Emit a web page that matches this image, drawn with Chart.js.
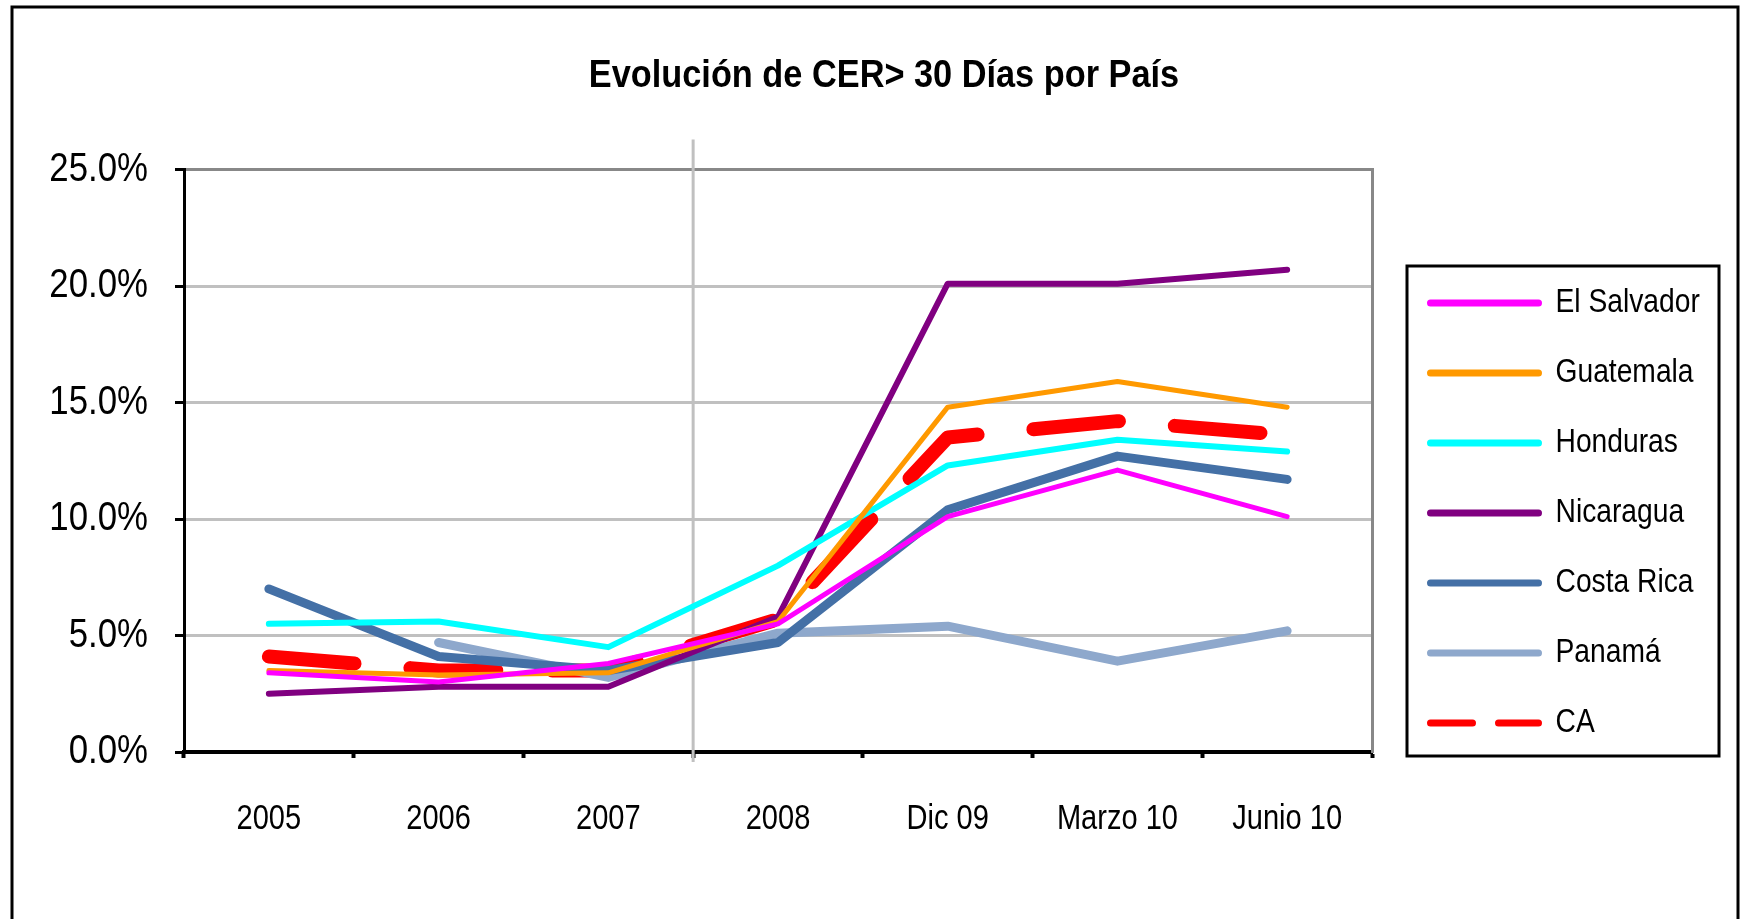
<!DOCTYPE html>
<html lang="es">
<head>
<meta charset="UTF-8">
<title>Evolución de CER&gt; 30 Días por País</title>
<script src="https://cdn.jsdelivr.net/npm/chart.js@4.4.0/dist/chart.umd.min.js"></script>
<style>
  html, body { margin: 0; padding: 0; background: #fff; }
  #wrap { width: 1744px; height: 919px; position: relative; }
</style>
</head>
<body>
<div id="wrap"><canvas id="cer"></canvas></div>
<script>
// periods on the x axis
const periodos = ['2005', '2006', '2007', '2008', 'Dic 09', 'Marzo 10', 'Junio 10'];

// CER > 30 dias, in percent
const elSalvador = [3.4, 3.0, 3.8, 5.5, 10.1, 12.1, 10.1];
const guatemala  = [3.5, 3.3, 3.4, 5.6, 14.8, 15.9, 14.8];
const honduras   = [5.5, 5.6, 4.5, 8.0, 12.3, 13.4, 12.9];
const nicaragua  = [2.5, 2.8, 2.8, 5.8, 20.1, 20.1, 20.7];
const costaRica  = [7.0, 4.1, 3.5, 4.7, 10.4, 12.7, 11.7];
const panama     = [null, 4.7, 3.2, 5.1, 5.4, 3.9, 5.2];
const ca         = [4.1, 3.5, 3.5, 5.7, 13.5, 14.2, 13.6];

const yTicks = [0, 5, 10, 15, 20, 25];

const FONT = "'Liberation Sans', Arial, sans-serif";

// no Arial Narrow here, so squeeze the text horizontally on this canvas
function narrow(font) {
    if (/bold/.test(font)) return 0.88;
    if (/\b40px/.test(font)) return 0.87;
    return 0.83;
}
const ctx = document.getElementById('cer').getContext('2d');
const nativeFill = ctx.fillText.bind(ctx);
const nativeMeasure = ctx.measureText.bind(ctx);
ctx.fillText = function (t, x, y, maxW) {
    const k = narrow(this.font);
    this.save();
    this.translate(x, y);
    this.scale(k, 1);
    if (maxW !== undefined) nativeFill(t, 0, 0, maxW / k); else nativeFill(t, 0, 0);
    this.restore();
};
ctx.measureText = function (t) {
    const m = nativeMeasure(t);
    const k = narrow(this.font);
    return {
        width: m.width * k,
        actualBoundingBoxAscent: m.actualBoundingBoxAscent,
        actualBoundingBoxDescent: m.actualBoundingBoxDescent,
        actualBoundingBoxLeft: m.actualBoundingBoxLeft * k,
        actualBoundingBoxRight: m.actualBoundingBoxRight * k
    };
};

const nombres = ['El Salvador', 'Guatemala', 'Honduras', 'Nicaragua', 'Costa Rica', 'Panamá', 'CA'];

// legend geometry: box 108 wide, 34px text, 36px padding; its left edge goes at 1394
// (chart.js adds 10px to the width of a vertical legend)
const LEG_FONT = 34, LEG_BOX = 108, LEG_PAD = 36;
ctx.font = LEG_FONT + 'px ' + FONT;
const legText = Math.max(...nombres.map(n => ctx.measureText(n).width));
const legWidth = LEG_PAD + LEG_BOX + LEG_FONT / 2 + legText + 10;
const padRight = Math.max(0, 1744 - 1394.5 - legWidth);

function serie(label, data, color, width, dash) {
    return {
        label: label,
        data: data,
        borderColor: color,
        backgroundColor: color,
        borderWidth: width,
        borderDash: dash || [],
        borderCapStyle: 'round',
        borderJoinStyle: 'round',
        pointRadius: 0,
        pointHoverRadius: 0,
        tension: 0,
        fill: false
    };
}

// frame around the whole chart + the legend box
const marcos = {
    id: 'marcos',
    afterLayout(chart) {
        // centre the title on the frame, not on the padded box
        const t = chart.titleBlock;
        if (t) {
            const shift = 884 - (t.left + t.right) / 2;
            t.left += shift;
            t.right += shift;
        }
    },
    beforeDraw(chart) {
        const c = chart.ctx;
        c.save();
        c.fillStyle = '#fff';
        c.fillRect(0, 0, chart.width, chart.height);
        c.strokeStyle = '#000';
        c.lineWidth = 3;
        c.strokeRect(12, 7, chart.width - 18, chart.height + 20);
        c.restore();
    },
    afterDraw(chart) {
        const lg = chart.legend;
        if (!lg || !lg.legendHitBoxes.length) return;
        const hb = lg.legendHitBoxes;
        const first = hb[0], last = hb[hb.length - 1];
        const c = chart.ctx;
        c.save();
        c.strokeStyle = '#000';
        c.lineWidth = 3;
        const top = first.top - 20;
        c.strokeRect(first.left - 23.5, top, 312, last.top + last.height + 16 - top);
        c.restore();
    }
};

// grey vertical separator between 2007 and 2008
const separador = {
    id: 'separador',
    beforeDatasetsDraw(chart) {
        const x = chart.scales.x.getPixelForValue(2.5);
        const a = chart.chartArea;
        const c = chart.ctx;
        c.save();
        c.strokeStyle = '#c0c0c0';
        c.lineWidth = 3;
        c.beginPath();
        c.moveTo(x, a.top - 30);
        c.lineTo(x, a.bottom + 10);
        c.stroke();
        c.restore();
    }
};

const chart = new Chart(ctx, {
    type: 'line',
    data: {
        labels: periodos,
        datasets: [
            serie(nombres[0], elSalvador, '#ff00ff', 5),
            serie(nombres[1], guatemala, '#ff9900', 5),
            serie(nombres[2], honduras, '#00ffff', 6),
            serie(nombres[3], nicaragua, '#800080', 6),
            serie(nombres[4], costaRica, '#4470a6', 9),
            serie(nombres[5], panama, '#8ea8cc', 9),
            serie(nombres[6], ca, '#ff0000', 14, [86, 56])
        ]
    },
    plugins: [marcos, separador],
    options: {
        responsive: true,
        maintainAspectRatio: false,
        animation: false,
        events: [],
        layout: { padding: { left: 24, right: padRight, top: 0, bottom: 0 } },
        plugins: {
            tooltip: { enabled: false },
            title: {
                display: true,
                text: 'Evolución de CER> 30 Días por País',
                color: '#000',
                font: { family: FONT, size: 39, weight: 'bold', lineHeight: 1.2 },
                padding: { top: 52.6, bottom: 70.1 }
            },
            legend: {
                position: 'right',
                align: 'start',
                fullSize: true,
                maxWidth: 420,
                title: {
                    display: true,
                    text: ' ',
                    font: { size: 10, lineHeight: 1 },
                    padding: { top: 240, bottom: 0 }
                },
                labels: {
                    color: '#000',
                    font: { family: FONT, size: LEG_FONT },
                    boxWidth: LEG_BOX,
                    boxHeight: 0,
                    padding: LEG_PAD,
                    generateLabels(chart) {
                        return chart.data.datasets.map((ds, i) => ({
                            text: ds.label,
                            fillStyle: 'rgba(0,0,0,0)',
                            strokeStyle: ds.borderColor,
                            lineWidth: 7,
                            lineCap: 'round',
                            lineJoin: 'round',
                            lineDash: ds.label === 'CA' ? [42, 26, 80, 26, 42, 0] : [],
                            fontColor: '#000',
                            hidden: false,
                            datasetIndex: i
                        }));
                    }
                }
            }
        },
        scales: {
            x: {
                offset: true,
                grid: {
                    offset: true,
                    drawOnChartArea: false,
                    drawTicks: true,
                    tickLength: 6,
                    tickColor: '#000',
                    tickWidth: 4
                },
                border: { display: true, color: '#000', width: 4 },
                ticks: {
                    color: '#000',
                    font: { family: FONT, size: 35 },
                    padding: 40,
                    maxRotation: 0,
                    autoSkip: false
                },
                afterFit(scale) { scale.height = 167; }
            },
            y: {
                min: 0,
                max: 25,
                afterBuildTicks(scale) { scale.ticks = yTicks.map(v => ({ value: v })); },
                grid: {
                    color: c => (c.tick && c.tick.value === 25 ? '#888888' : '#c0c0c0'),
                    lineWidth: 3,
                    tickColor: '#000',
                    tickLength: 9,
                    tickWidth: 3
                },
                border: { display: true, color: '#000', width: 3 },
                ticks: {
                    color: '#000',
                    font: { family: FONT, size: 40 },
                    padding: 27,
                    callback: v => v.toFixed(1) + '%'
                },
                afterFit(scale) { scale.width = 160; }
            },
            y2: {
                position: 'right',
                display: true,
                grid: { display: false, drawTicks: false },
                ticks: { display: false },
                border: { display: true, color: '#888888', width: 3 },
                afterFit(scale) { scale.width = 22.5; }
            }
        }
    }
});
</script>
</body>
</html>
